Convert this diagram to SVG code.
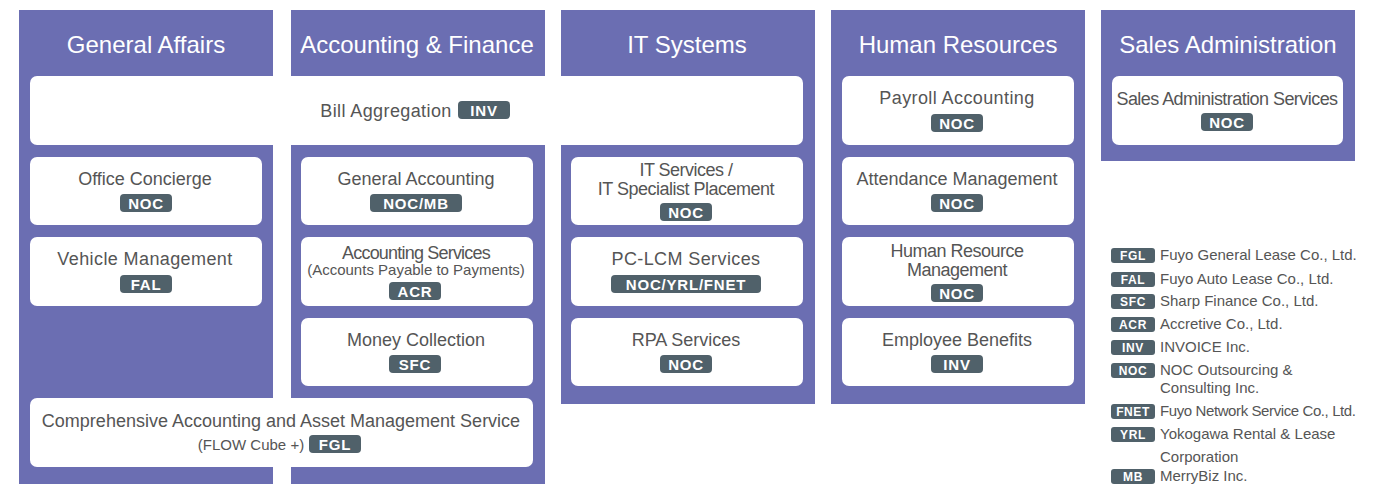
<svg xmlns="http://www.w3.org/2000/svg" width="1396" height="484" viewBox="0 0 1396 484">
<style>
.col{fill:#6b6eb2}
.hd{font-family:"Liberation Sans",Arial,sans-serif;font-size:24px;fill:#ffffff;text-anchor:middle}
.box{fill:#ffffff}
.t{font-family:"Liberation Sans",Arial,sans-serif;font-size:18px;fill:#555555;text-anchor:middle}
.tw{letter-spacing:0.4px}
.tc{letter-spacing:-0.5px}
.s{font-family:"Liberation Sans",Arial,sans-serif;font-size:15px;fill:#555555;text-anchor:middle}
.bd{fill:#50616a}
.bt{font-family:"Liberation Sans",Arial,sans-serif;font-size:15px;font-weight:bold;fill:#ffffff;text-anchor:middle;letter-spacing:0.8px}
.lb{fill:#50616a}
.lbt{font-family:"Liberation Sans",Arial,sans-serif;font-size:12px;font-weight:bold;fill:#ffffff;text-anchor:middle;letter-spacing:0.6px}
.lt{font-family:"Liberation Sans",Arial,sans-serif;font-size:15px;fill:#555555}
</style>
<rect width="1396" height="484" fill="#ffffff"/>

<g id="col-general-affairs">
<rect class="col" x="19" y="10" width="254" height="474"/>
<text class="hd" x="146" y="53">General Affairs</text>
</g>
<g id="col-accounting-finance">
<rect class="col" x="291" y="10" width="254" height="474"/>
<text class="hd" x="417" y="53">Accounting &amp; Finance</text>
</g>
<g id="col-it-systems">
<rect class="col" x="561" y="10" width="254" height="394"/>
<text class="hd" x="687" y="53">IT Systems</text>
</g>
<g id="col-human-resources">
<rect class="col" x="831" y="10" width="254" height="394"/>
<text class="hd" x="958" y="53">Human Resources</text>
</g>
<g id="col-sales-administration">
<rect class="col" x="1101" y="10" width="254" height="151"/>
<text class="hd" x="1228" y="53">Sales Administration</text>
</g>

<g id="connectors"/>

<g id="bill-aggregation">
<rect class="box" x="30" y="76" width="773" height="69" rx="7"/>
<text class="t tw" x="386" y="117">Bill Aggregation</text>
<rect class="bd" x="458" y="101" width="52" height="18" rx="4"/>
<text class="bt" x="484" y="115.5">INV</text>
</g>
<g id="payroll-accounting">
<rect class="box" x="842" y="76" width="232" height="69" rx="7"/>
<text class="t tw" x="957" y="104">Payroll Accounting</text>
<rect class="bd" x="931" y="114" width="52" height="18" rx="4"/>
<text class="bt" x="957" y="128.5">NOC</text>
</g>
<g id="sales-administration-services">
<rect class="box" x="1112" y="76" width="231" height="69" rx="7"/>
<text class="t" x="1227" y="105" style="letter-spacing:-0.55px">Sales Administration Services</text>
<rect class="bd" x="1201" y="113" width="52" height="18" rx="4"/>
<text class="bt" x="1227" y="127.5">NOC</text>
</g>

<g id="office-concierge">
<rect class="box" x="30" y="157" width="232" height="68" rx="7"/>
<text class="t" x="145" y="185">Office Concierge</text>
<rect class="bd" x="120" y="194" width="52" height="18" rx="4"/>
<text class="bt" x="146" y="208.5">NOC</text>
</g>
<g id="general-accounting">
<rect class="box" x="301" y="157" width="232" height="68" rx="7"/>
<text class="t" x="416" y="185">General Accounting</text>
<rect class="bd" x="370" y="194" width="92" height="18" rx="4"/>
<text class="bt" x="416" y="208.5">NOC/MB</text>
</g>
<g id="it-services">
<rect class="box" x="571" y="157" width="232" height="68" rx="7"/>
<text class="t tc" x="686" y="176">IT Services /</text>
<text class="t tc" x="686" y="195">IT Specialist Placement</text>
<rect class="bd" x="660" y="203" width="52" height="18" rx="4"/>
<text class="bt" x="686" y="217.5">NOC</text>
</g>
<g id="attendance-management">
<rect class="box" x="842" y="157" width="232" height="68" rx="7"/>
<text class="t" x="957" y="185">Attendance Management</text>
<rect class="bd" x="931" y="194" width="52" height="18" rx="4"/>
<text class="bt" x="957" y="208.5">NOC</text>
</g>

<g id="vehicle-management">
<rect class="box" x="30" y="237" width="232" height="69" rx="7"/>
<text class="t tw" x="145" y="265">Vehicle Management</text>
<rect class="bd" x="120" y="275" width="52" height="18" rx="4"/>
<text class="bt" x="146" y="289.5">FAL</text>
</g>
<g id="accounting-services">
<rect class="box" x="301" y="237" width="232" height="69" rx="7"/>
<text class="t" x="416" y="259" style="letter-spacing:-0.8px">Accounting Services</text>
<text class="s" x="416" y="275">(Accounts Payable to Payments)</text>
<rect class="bd" x="389" y="282" width="52" height="18" rx="4"/>
<text class="bt" x="415" y="296.5">ACR</text>
</g>
<g id="pc-lcm-services">
<rect class="box" x="571" y="237" width="232" height="69" rx="7"/>
<text class="t tw" x="686" y="265">PC-LCM Services</text>
<rect class="bd" x="611" y="275" width="150" height="18" rx="4"/>
<text class="bt" x="686" y="289.5">NOC/YRL/FNET</text>
</g>
<g id="human-resource-management">
<rect class="box" x="842" y="237" width="232" height="69" rx="7"/>
<text class="t tc" x="957" y="257">Human Resource</text>
<text class="t tc" x="957" y="276">Management</text>
<rect class="bd" x="931" y="284" width="52" height="18" rx="4"/>
<text class="bt" x="957" y="298.5">NOC</text>
</g>

<g id="money-collection">
<rect class="box" x="301" y="318" width="232" height="68" rx="7"/>
<text class="t" x="416" y="346">Money Collection</text>
<rect class="bd" x="389" y="355" width="52" height="18" rx="4"/>
<text class="bt" x="415" y="369.5">SFC</text>
</g>
<g id="rpa-services">
<rect class="box" x="571" y="318" width="232" height="68" rx="7"/>
<text class="t" x="686" y="346">RPA Services</text>
<rect class="bd" x="660" y="355" width="52" height="18" rx="4"/>
<text class="bt" x="686" y="369.5">NOC</text>
</g>
<g id="employee-benefits">
<rect class="box" x="842" y="318" width="232" height="68" rx="7"/>
<text class="t" x="957" y="346">Employee Benefits</text>
<rect class="bd" x="931" y="355" width="52" height="18" rx="4"/>
<text class="bt" x="957" y="369.5">INV</text>
</g>

<g id="comprehensive-accounting">
<rect class="box" x="30" y="398" width="503" height="69" rx="7"/>
<text class="t" x="281" y="427">Comprehensive Accounting and Asset Management Service</text>
<text class="s" x="251" y="450">(FLOW Cube +)</text>
<rect class="bd" x="309" y="435" width="52" height="18" rx="4"/>
<text class="bt" x="335" y="449.5">FGL</text>
</g>

<g id="legend">
<rect class="lb" x="1111" y="248" width="44" height="15" rx="3"/><text class="lbt" x="1133" y="260">FGL</text><text class="lt" x="1160" y="260">Fuyo General Lease Co., Ltd.</text>
<rect class="lb" x="1111" y="272" width="44" height="15" rx="3"/><text class="lbt" x="1133" y="284">FAL</text><text class="lt" x="1160" y="284">Fuyo Auto Lease Co., Ltd.</text>
<rect class="lb" x="1111" y="294" width="44" height="15" rx="3"/><text class="lbt" x="1133" y="306">SFC</text><text class="lt" x="1160" y="306">Sharp Finance Co., Ltd.</text>
<rect class="lb" x="1111" y="317" width="44" height="15" rx="3"/><text class="lbt" x="1133" y="329">ACR</text><text class="lt" x="1160" y="329">Accretive Co., Ltd.</text>
<rect class="lb" x="1111" y="340" width="44" height="15" rx="3"/><text class="lbt" x="1133" y="352">INV</text><text class="lt" x="1160" y="352">INVOICE Inc.</text>
<rect class="lb" x="1111" y="363" width="44" height="15" rx="3"/><text class="lbt" x="1133" y="375">NOC</text><text class="lt" x="1160" y="375">NOC Outsourcing &amp;</text><text class="lt" x="1160" y="393">Consulting Inc.</text>
<rect class="lb" x="1111" y="404" width="44" height="15" rx="3"/><text class="lbt" x="1133" y="416">FNET</text><text class="lt" x="1160" y="416" style="letter-spacing:-0.4px">Fuyo Network Service Co., Ltd.</text>
<rect class="lb" x="1111" y="427" width="44" height="15" rx="3"/><text class="lbt" x="1133" y="439">YRL</text><text class="lt" x="1160" y="439">Yokogawa Rental &amp; Lease</text><text class="lt" x="1160" y="462">Corporation</text>
<rect class="lb" x="1111" y="469" width="44" height="15" rx="3"/><text class="lbt" x="1133" y="481">MB</text><text class="lt" x="1160" y="481">MerryBiz Inc.</text>
</g>
</svg>
